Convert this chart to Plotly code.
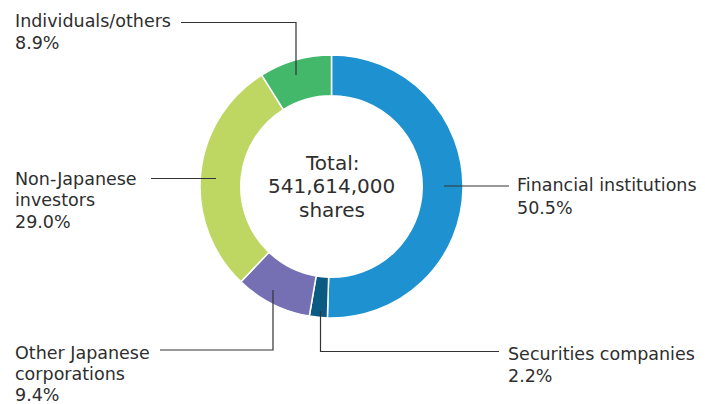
import plotly.graph_objects as go

# Shareholder composition
categories = [
    "Financial institutions",
    "Securities companies",
    "Other Japanese corporations",
    "Non-Japanese investors",
    "Individuals/others",
]
label_lines = [
    ["Financial institutions"],
    ["Securities companies"],
    ["Other Japanese", "corporations"],
    ["Non-Japanese", "investors"],
    ["Individuals/others"],
]
shares_pct = [50.5, 2.2, 9.4, 29.0, 8.9]
colors = ["#1e92d0", "#0b5a82", "#7570b3", "#bdd762", "#43b86a"]
total_lines = ["Total:", "541,614,000", "shares"]

# page body adds an 8px margin, so the figure is drawn 8px in from the window edge
OFF = 8
W, H = 705 - OFF, 404 - OFF
FONT = "DejaVu Sans"
TEXT_COLOR = "#2e2e2e"


def px(x):
    return (x - OFF) / W


def py(y):
    return 1 - (y - OFF) / H


fig = go.Figure()

fig.add_trace(
    go.Pie(
        labels=categories,
        values=shares_pct,
        sort=False,
        direction="clockwise",
        rotation=0,
        hole=0.69,
        marker=dict(colors=colors, line=dict(color="white", width=1.5)),
        textinfo="none",
        hovertemplate="%{label}: %{value:.1f}%<extra></extra>",
        showlegend=False,
        domain=dict(x=[px(200), px(463)], y=[py(318), py(55)]),
    )
)

# label placement: left x, first-line middle y and line step (window pixels)
label_pos = {
    "Financial institutions": (515, 185, 22.5),
    "Securities companies": (506, 354, 21.5),
    "Other Japanese corporations": (13, 352.5, 21.0),
    "Non-Japanese investors": (13, 178.5, 21.8),
    "Individuals/others": (13, 21.5, 21.8),
}

leader_paths = [
    [(444, 186), (509, 186)],
    [(320.5, 311), (320.5, 351.5), (499, 351.5)],
    [(273, 290), (273, 350), (160, 350)],
    [(216, 178.5), (151, 178.5)],
    [(296, 75), (296, 22.5), (181, 22.5)],
]

annotations = []
for cat, lines, pct in zip(categories, label_lines, shares_pct):
    x0, y0, step = label_pos[cat]
    for i, t in enumerate(lines + [f"{pct:.1f}%"]):
        annotations.append(
            dict(
                x=px(x0), y=py(y0 + i * step), xref="paper", yref="paper",
                xanchor="left", yanchor="middle", align="left",
                text=t, showarrow=False,
                font=dict(family=FONT, size=17.5, color=TEXT_COLOR),
            )
        )

for i, t in enumerate(total_lines):
    annotations.append(
        dict(
            x=px(331.5), y=py(163 + i * 23.5), xref="paper", yref="paper",
            xanchor="center", yanchor="middle", align="center",
            text=t, showarrow=False,
            font=dict(family=FONT, size=20, color=TEXT_COLOR),
        )
    )

shapes = []
for path in leader_paths:
    d = "M " + " L ".join(f"{px(x)},{py(y)}" for x, y in path)
    shapes.append(
        dict(type="path", path=d, xref="paper", yref="paper",
             line=dict(color="#333333", width=1.2))
    )

fig.update_layout(
    width=W,
    height=H,
    margin=dict(l=0, r=0, t=0, b=0),
    paper_bgcolor="white",
    plot_bgcolor="white",
    annotations=annotations,
    shapes=shapes,
)

fig.write_html("out.html")
